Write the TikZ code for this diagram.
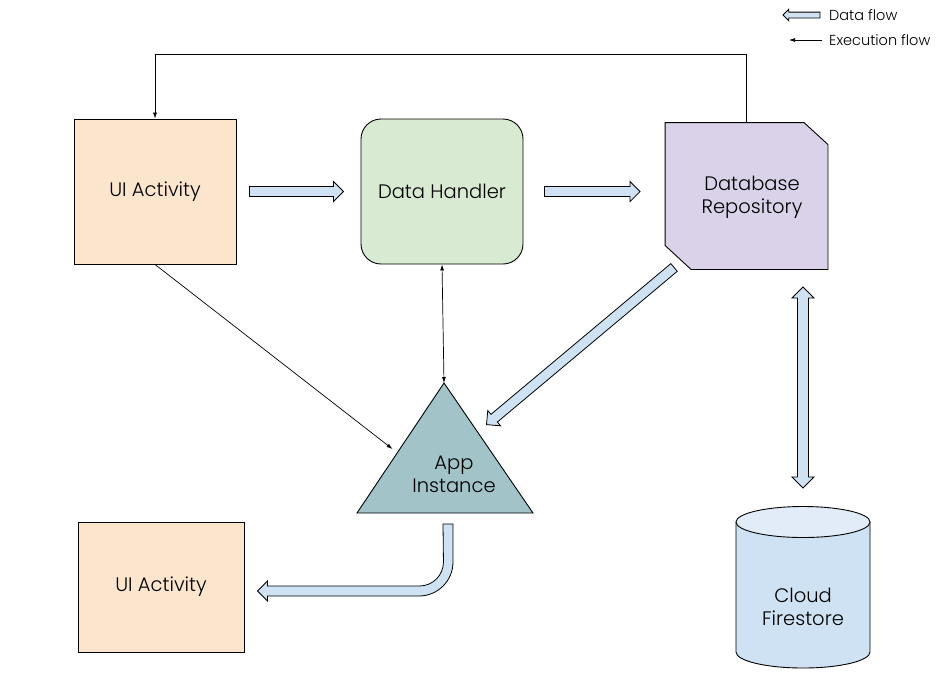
\documentclass[tikz,border=0pt]{standalone}
\usepackage{fontspec}
\setmainfont{Poppins}[UprightFont=* Light]
\usetikzlibrary{arrows.meta,calc}

\definecolor{uiorange}{HTML}{FCE5CD}
\definecolor{handlergreen}{HTML}{D9EAD3}
\definecolor{repopurple}{HTML}{D9D2E9}
\definecolor{appcyan}{HTML}{A2C4C9}
\definecolor{flowblue}{HTML}{CFE2F3}
\definecolor{storetop}{HTML}{E1ECF8}

\tikzset{
  box/.style={draw, line width=0.9pt, minimum width=162pt, minimum height=145pt,
    inner sep=0pt, align=center, font=\fontsize{19.5}{23}\selectfont},
  label/.style={inner sep=0pt, align=center, font=\fontsize{19.5}{23}\selectfont},
  flowarrow/.style={draw, fill=flowblue, line width=0.8pt, line join=miter},
  execarrow/.style={line width=0.7pt, -{Latex[length=6pt,width=4pt]}},
  legend/.style={inner sep=0pt, anchor=west, font=\fontsize{14.5}{17}\selectfont}
}

% fat arrow from #2 to #3, shaft half width #1
\newcommand{\dataflow}[3][5]{%
  \filldraw[flowarrow] let \p1=#2, \p2=#3,
    \n1={atan2(\y2-\y1,\x2-\x1)}, \n2={veclen(\x2-\x1,\y2-\y1)} in
    [shift={(\p1)}, rotate=\n1]
    (0pt,-#1pt) -- (\n2-2*#1pt,-#1pt) -- (\n2-2*#1pt,-2*#1pt) -- (\n2,0pt)
    -- (\n2-2*#1pt,2*#1pt) -- (\n2-2*#1pt,#1pt) -- (0pt,#1pt) -- cycle;}
% same with a head at both ends
\newcommand{\dualflow}[3][5]{%
  \filldraw[flowarrow] let \p1=#2, \p2=#3,
    \n1={atan2(\y2-\y1,\x2-\x1)}, \n2={veclen(\x2-\x1,\y2-\y1)} in
    [shift={(\p1)}, rotate=\n1]
    (0pt,0pt) -- (2*#1pt,-2*#1pt) -- (2*#1pt,-#1pt) -- (\n2-2*#1pt,-#1pt)
    -- (\n2-2*#1pt,-2*#1pt) -- (\n2,0pt) -- (\n2-2*#1pt,2*#1pt)
    -- (\n2-2*#1pt,#1pt) -- (2*#1pt,#1pt) -- (2*#1pt,2*#1pt) -- cycle;}

\begin{document}
\begin{tikzpicture}[x=1pt,y=-1pt]
\useasboundingbox (0,0) rectangle (941,697);

% legend
\node[legend] (dataKey) at (829,15) {Data flow};
\node[legend] (execKey) at (829,40) {Execution flow};
\dataflow[2.9]{($(dataKey.west)+(-9,0)$)}{($(dataKey.west)+(-46,0)$)}
\draw[execarrow] ($(execKey.west)+(-7,0)$) -- ++(-33,0);

% blocks
\node[box, fill=uiorange] (ui) at (155,191.5) {UI Activity};
\node[box, fill=handlergreen, rounded corners=20pt] (handler) at (442,191.5) {Data Handler};
\node[box, draw=none, minimum height=146pt] (repo) at (746.5,196) {};
\filldraw[fill=repopurple, line width=0.9pt, line join=miter] (repo.north west)
  -- ($(repo.north east)+(-24,0)$) -- ($(repo.north east)+(0,22)$)
  -- (repo.south east) -- ($(repo.south west)+(26,0)$)
  -- ($(repo.south west)+(0,-24)$) -- cycle;
\node[label] (repoText) at (752,197) {Database\\Repository};
\node[box, fill=uiorange, minimum width=166pt, minimum height=130pt] (ui2) at (161,587) {UI Activity};

% app instance
\coordinate (appTop) at (444,383);
\coordinate (appLeft) at (357,513);
\coordinate (appRight) at (533,513);
\filldraw[fill=appcyan, line width=0.9pt, line join=miter] (appTop) -- (appRight) -- (appLeft) -- cycle;
\node[label] (app) at (454,474) {App\\Instance};

% cloud firestore
\filldraw[fill=flowblue, line width=0.9pt] (736,522) -- (736,652)
  arc[start angle=180, end angle=360, x radius=67pt, y radius=16pt] -- (870,522);
\filldraw[fill=storetop, line width=0.9pt] (803,522) ellipse[x radius=67pt, y radius=15.5pt];
\node[label] (cloud) at (803,607) {Cloud\\Firestore};

% data flow
\coordinate (appOut) at (448,524);
\coordinate (ui2In) at ($(ui2.east)+(13,4)$);
\coordinate (repoLink) at (803,287);
\coordinate (cloudTop) at (803,488);
\dataflow{($(ui.east)+(13,0)$)}{($(handler.west)+(-17,0)$)}
\dataflow{($(handler.east)+(21,0)$)}{($(repo.west |- handler.east)+(-25,0)$)}
\dataflow{($(repo.south west)+(9,-2)$)}{($(appTop)!0.32!(appRight)+(14,0)$)}
\dualflow[5.5]{(repoLink)}{(cloudTop)}
\filldraw[flowarrow] (appOut) ++(5,0) -- ++(0,38)
  arc[start angle=0, end angle=-90, radius=34pt] -- ($(ui2In)+(10,5)$)
  -- ++(0,5) -- (ui2In) -- ++(10,-10) -- ++(0,5) -- ++(152,0)
  arc[start angle=-90, end angle=0, radius=24pt] -- ($(appOut)+(-5,0)$) -- cycle;

% execution flow
\draw[execarrow] (repo.north) -- ++(0,-68) -| (ui.north);
\draw[execarrow] (ui.south) -- ($(appTop)!0.5!(appLeft)+(-8,1)$);
\draw[line width=0.7pt, {Latex[length=6pt,width=4pt]}-{Latex[length=6pt,width=4pt]}] (handler.south) -- (appTop);
\end{tikzpicture}
\end{document}
